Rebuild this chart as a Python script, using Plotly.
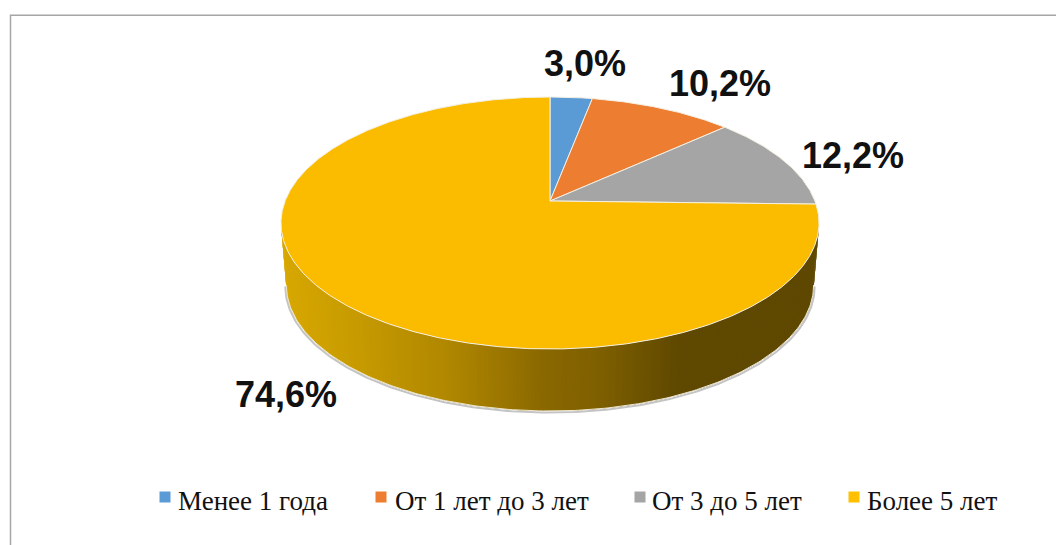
import numpy as np
import plotly.graph_objects as go

categories = ["Менее 1 года", "От 1 лет до 3 лет", "От 3 до 5 лет", "Более 5 лет"]
values = [3.0, 10.2, 12.2, 74.6]
labels = ["3,0%", "10,2%", "12,2%", "74,6%"]
colors = ["#5B9BD5", "#ED7D31", "#A5A5A5", "#FFC000"]
top_colors = ["#5B9BD5", "#ED7D31", "#A5A5A5", "#FBBC00"]
label_xy = [(585, 63), (720, 83), (853, 155), (286, 394)]
legend_marker_x = [165, 381, 640, 854]
legend_text_x = [176, 393, 650, 865]
side_stops_x = [282, 360, 450, 545, 600, 680, 820]
side_stops_rgb = [(216, 168, 2), (198, 154, 0), (176, 135, 0), (138, 104, 0), (127, 96, 0), (95, 72, 0), (96, 72, 0)]

CX, CY = 550.0, 201.0      # pie apex, pixels
K, A, B = 0.1746, 122.16, 264.9   # perspective of the disc
DEPTH = 62.0
BOTTOM_SCALE = 0.98
TH_RIGHT = np.arccos(-K)       # where the projected disc is widest
TH_LEFT = 2 * np.pi - TH_RIGHT


def project(theta):
    u, v = np.sin(theta), np.cos(theta)
    d = 1 + K * v
    return CX + B * u / d, CY - A * v / d


def lower(x, y):
    return CX + (x - CX) * BOTTOM_SCALE, y + DEPTH


fig = go.Figure()

# soft shadow under the wall
th = np.linspace(TH_RIGHT, TH_LEFT, 200)
xs, ys = lower(*project(th))
fig.add_trace(go.Scatter(x=xs + np.sign(xs - CX), y=ys + 1.5, mode="lines", line=dict(color="#C4C4C4", width=2),
                         hoverinfo="skip", showlegend=False))

# side wall as thin overlapping strips shaded by horizontal position
edges = np.linspace(TH_RIGHT, TH_LEFT, 241)
step = edges[1] - edges[0]
for a in edges[:-1]:
    seg = np.linspace(a, min(a + step * 2.5, edges[-1]), 4)
    x1, y1 = project(seg)
    x2, y2 = lower(x1, y1)
    xm = project(a + step / 2)[0]
    rgb = [np.interp(xm, side_stops_x, [c[i] for c in side_stops_rgb]) for i in range(3)]
    col = "rgb(%d,%d,%d)" % tuple(rgb)
    fig.add_trace(go.Scatter(x=np.r_[x1, x2[::-1]], y=np.r_[y1, y2[::-1]], mode="lines", fill="toself",
                             fillcolor=col, line=dict(width=0),
                             hoverinfo="skip", showlegend=False))

# pale rim along the bottom of the wall
fig.add_trace(go.Scatter(x=xs, y=ys, mode="lines", line=dict(color="#EFE9D6", width=1),
                         hoverinfo="skip", showlegend=False))

# top slices
start = 0.0
for name, val, col in zip(categories, values, top_colors):
    end = start + val / sum(values) * 2 * np.pi
    th = np.linspace(start, end, max(int(val * 8), 8))
    x, y = project(th)
    fig.add_trace(go.Scatter(x=np.r_[CX, x, CX], y=np.r_[CY, y, CY], mode="lines", fill="toself",
                             fillcolor=col, line=dict(color="#F4EFE2", width=1),
                             name=name, hoverinfo="name", showlegend=False))
    start = end

# legend keys
fig.add_trace(go.Scatter(x=legend_marker_x, y=[497] * 4, mode="markers",
                         marker=dict(symbol="square", size=11, color=colors),
                         hoverinfo="skip", showlegend=False))

annotations = []
for (x, y), t in zip(label_xy, labels):
    annotations.append(dict(x=x, y=y, text=t, showarrow=False, xanchor="center", yanchor="middle",
                            font=dict(family="Liberation Sans", size=36, color="#111111", weight="bold")))
for x, t in zip(legend_text_x, categories):
    annotations.append(dict(x=x, y=501, text=t, showarrow=False, xanchor="left", yanchor="middle",
                            font=dict(family="Liberation Serif", size=27, color="#111111")))

fig.update_layout(
    width=1056, height=545, margin=dict(l=0, r=0, t=0, b=0),
    paper_bgcolor="white", plot_bgcolor="white", showlegend=False,
    xaxis=dict(range=[0, 1056], visible=False, fixedrange=True),
    yaxis=dict(range=[545, 0], visible=False, fixedrange=True),
    annotations=annotations,
    shapes=[dict(type="rect", xref="x", yref="y", x0=10.5, y0=15.2, x1=1080, y1=580,
                 line=dict(color="#A6A6A6", width=1.5))],
)
fig.write_html("out.html", config=dict(displayModeBar=False),
               post_script="document.body.style.margin='0';document.documentElement.style.overflow='hidden';")
